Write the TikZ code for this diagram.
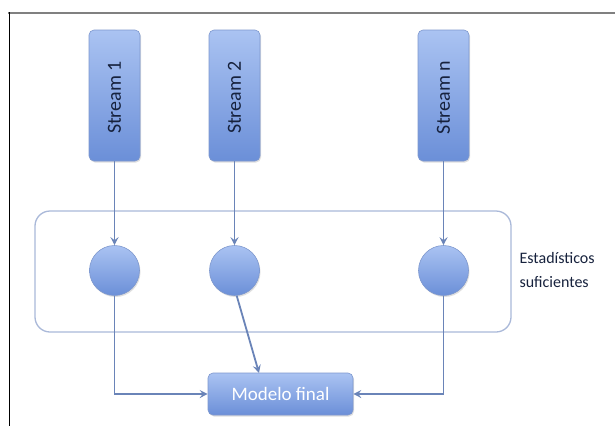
\documentclass[tikz,border=0pt]{standalone}
\usepackage{fontspec}
\setmainfont{Carlito}
\usetikzlibrary{arrows.meta,shadows,calc}
\definecolor{boxtop}{HTML}{AAC3F2}
\definecolor{boxbot}{HTML}{6B8FD8}
\definecolor{boxline}{HTML}{7E98CE}
\definecolor{conn}{HTML}{6A84B8}
\definecolor{groupline}{HTML}{AAB9D9}
\definecolor{darktext}{HTML}{17223D}
\tikzset{
  bluebox/.style={draw=boxline, line width=0.6pt, top color=boxtop, bottom color=boxbot,
    rounded corners=5pt, drop shadow={opacity=0.25, shadow xshift=1pt, shadow yshift=-1.5pt}},
  streambox/.style={bluebox, minimum width=51pt, minimum height=131pt, inner sep=0pt},
  statcircle/.style={circle, draw=boxline, line width=0.6pt, top color=boxtop, bottom color=boxbot,
    minimum size=50pt, inner sep=0pt, drop shadow={opacity=0.25, shadow xshift=1pt, shadow yshift=-1.5pt}},
  modelbox/.style={bluebox, minimum width=145pt, minimum height=42pt, inner sep=0pt},
  streamtext/.style={rotate=90, font=\fontsize{20}{22}\selectfont, text=darktext},
  conn/.style={draw=conn, line width=1.8pt, -{Stealth[length=8pt,width=8pt,inset=3pt]}},
}
\begin{document}
\begin{tikzpicture}[x=1pt,y=-1pt]
\useasboundingbox (0,0) rectangle (615,426);
\fill[white] (0,0) rectangle (615,426);
% frame
\draw[draw=black!50, line width=2pt] (8,13) -- (615,13);
\draw[draw=black, line width=1pt] (9,12) -- (9,426);
% group
\draw[draw=groupline, line width=1.3pt, rounded corners=15pt] (35,211) rectangle (511,332);
\node[anchor=west, align=left, font=\fontsize{16}{24}\selectfont, text=darktext] (lbl) at (516,270) {Estadísticos\\suficientes};
% streams
\node[streambox] (s1) at (114.5,95.5) {};
\node[streamtext] (t1) at ($(s1.center)+(0,2)$) {Stream 1};
\node[streambox] (s2) at (234.5,95.5) {};
\node[streamtext] (t2) at ($(s2.center)+(0,2)$) {Stream 2};
\node[streambox] (sn) at (443.5,95.5) {};
\node[streamtext] (tn) at ($(sn.center)+(0,2)$) {Stream n};
% circles
\node[statcircle] (c1) at (114.5,270.5) {};
\node[statcircle] (c2) at (234.5,270.5) {};
\node[statcircle] (cn) at (443.5,270.5) {};
% model
\node[modelbox, font=\fontsize{19}{21}\selectfont, text=white] (m) at (280.5,394) {Modelo final};
\coordinate (m2) at (259,373);
% connectors
\draw[conn] (s1.south) -- (c1.north);
\draw[conn] (s2.south) -- (c2.north);
\draw[conn] (sn.south) -- (cn.north);
\draw[conn] (c1.south) |- (m.west);
\draw[conn] (c2.-85) -- (m2);
\draw[conn] (cn.south) |- (m.east);
\end{tikzpicture}
\end{document}
